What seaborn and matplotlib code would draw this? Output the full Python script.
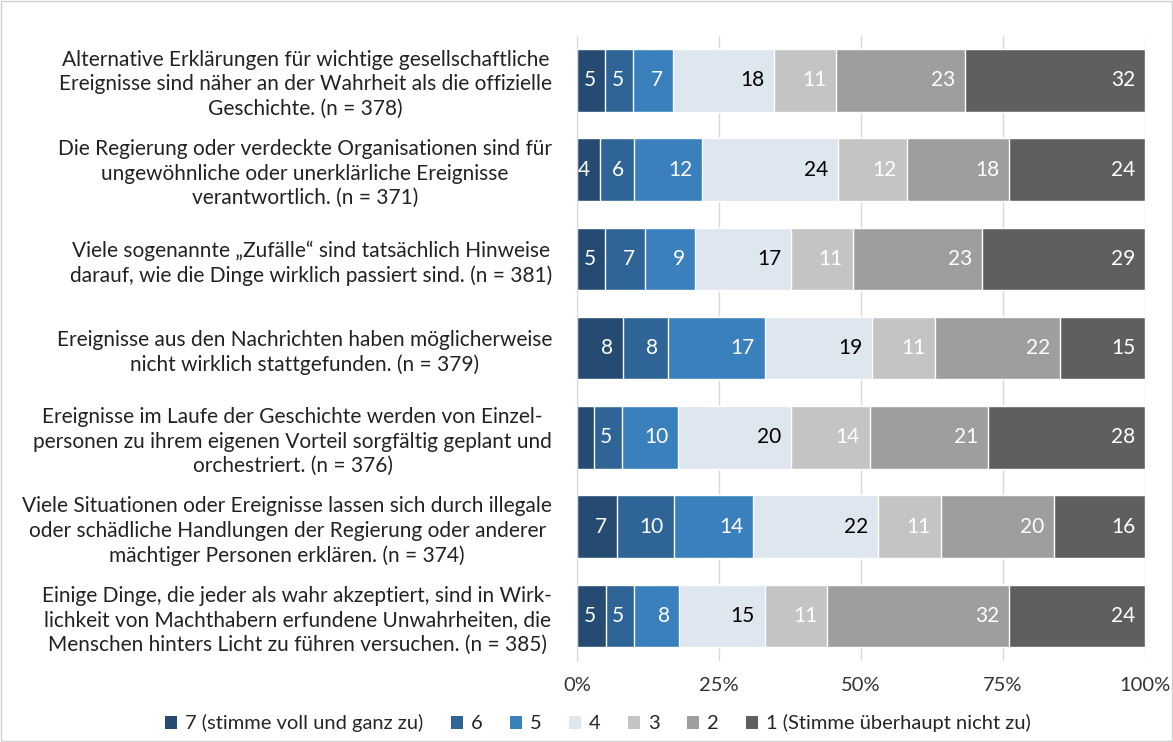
import numpy as np
import pandas as pd
import matplotlib
matplotlib.use('Agg')
import matplotlib.pyplot as plt
import seaborn as sns
from matplotlib.patches import Patch, Rectangle

# Items (statements) and answer categories
items = [
    'Alternative Erklärungen für wichtige gesellschaftliche\nEreignisse sind näher an der Wahrheit als die offizielle\nGeschichte. (n = 378)',
    'Die Regierung oder verdeckte Organisationen sind für\nungewöhnliche oder unerklärliche Ereignisse\nverantwortlich. (n = 371)',
    'Viele sogenannte „Zufälle“ sind tatsächlich Hinweise\ndarauf, wie die Dinge wirklich passiert sind. (n = 381)',
    'Ereignisse aus den Nachrichten haben möglicherweise\nnicht wirklich stattgefunden. (n = 379)',
    'Ereignisse im Laufe der Geschichte werden von Einzel-\npersonen zu ihrem eigenen Vorteil sorgfältig geplant und\norchestriert. (n = 376)',
    'Viele Situationen oder Ereignisse lassen sich durch illegale\noder schädliche Handlungen der Regierung oder anderer\nmächtiger Personen erklären. (n = 374)',
    'Einige Dinge, die jeder als wahr akzeptiert, sind in Wirk-\nlichkeit von Machthabern erfundene Unwahrheiten, die\nMenschen hinters Licht zu führen versuchen. (n = 385)',
]
answers = ['7 (stimme voll und ganz zu)', '6', '5', '4', '3', '2',
           '1 (Stimme überhaupt nicht zu)']

# Percentages per answer category (one value per item)
s7 = [5, 4, 5, 8, 3, 7, 5]
s6 = [5, 6, 7, 8, 5, 10, 5]
s5 = [7, 12, 9, 17, 10, 14, 8]
s4 = [18, 24, 17, 19, 20, 22, 15]
s3 = [11, 12, 11, 11, 14, 11, 11]
s2 = [23, 18, 23, 22, 21, 20, 32]
s1 = [32, 24, 29, 15, 28, 16, 24]
hidden = [(4, 0)]  # (item index, answer index) without label

colors = ['#264b73', '#2e6596', '#3a80bd', '#dee6f0', '#c4c4c4', '#9e9e9e', '#5f5f5f']
text_colors = ['white', 'white', 'white', 'black', 'white', 'white', 'white']

vals = np.array([s7, s6, s5, s4, s3, s2, s1], dtype=float).T
share = vals / vals.sum(axis=1, keepdims=True) * 100
cum = share.cumsum(axis=1)

sns.set_style('white')
plt.rcParams['font.family'] = ['Lato', 'DejaVu Sans']

fig = plt.figure(figsize=(11.73, 7.42), dpi=100)
ax = fig.add_axes([0.492, 0.1096, 0.4842, 0.8424])

# stacked bars: draw cumulative totals from the right, each overlaying the last
for j in range(len(answers) - 1, -1, -1):
    df = pd.DataFrame({'item': items, 'value': cum[:, j]})
    sns.barplot(data=df, y='item', x='value', orient='h', color=colors[j],
                width=0.7, saturation=1, ax=ax, zorder=2)

for i in range(len(items)):
    for j in range(len(answers)):
        if (i, j) in hidden:
            continue
        ax.annotate(f'{int(vals[i, j])}', xy=(cum[i, j], i), xytext=(-7, 0),
                    textcoords='offset points', ha='right', va='center',
                    fontsize=15, color=text_colors[j], zorder=3)

ax.set_xlim(0, 100)
ax.set_ylim(len(items) - 0.5, -0.5)
ax.set_xticks([0, 25, 50, 75, 100])
ax.set_xticklabels(['0%', '25%', '50%', '75%', '100%'], fontsize=14.5, color='#333333')
ax.tick_params(axis='x', length=0, pad=12)
ax.xaxis.grid(True, color='#d9d9d9', linewidth=1, zorder=0)
ax.set_axisbelow(True)
ax.set_xlabel('')
ax.set_ylabel('')

ax.set_yticks(range(len(items)))
ax.set_yticklabels(items, fontsize=15, color='#222222')
for lab in ax.get_yticklabels():
    lab.set_multialignment('center')
    lab.set_linespacing(1.27)
ax.tick_params(axis='y', which='major', length=0, pad=18)
ax.set_yticks(np.arange(-0.5, len(items) + 0.5, 1), minor=True)
ax.tick_params(axis='y', which='minor', length=7, color='#d9d9d9', width=1)

for side in ['top', 'right', 'bottom']:
    ax.spines[side].set_visible(False)
ax.spines['left'].set_color('#d9d9d9')

handles = [Patch(facecolor=c, edgecolor='none') for c in colors]
fig.legend(handles, answers, loc='center', bbox_to_anchor=(0.51, 0.025), ncol=7,
           frameon=False, fontsize=14.5, handlelength=0.6, handleheight=0.6,
           handletextpad=0.4, columnspacing=1.35)

fig.patches.append(Rectangle((0.0005, 0.001), 0.999, 0.998, transform=fig.transFigure,
                             fill=False, edgecolor='#d0d0d0', linewidth=1))

fig.savefig('out.png', dpi=100)
